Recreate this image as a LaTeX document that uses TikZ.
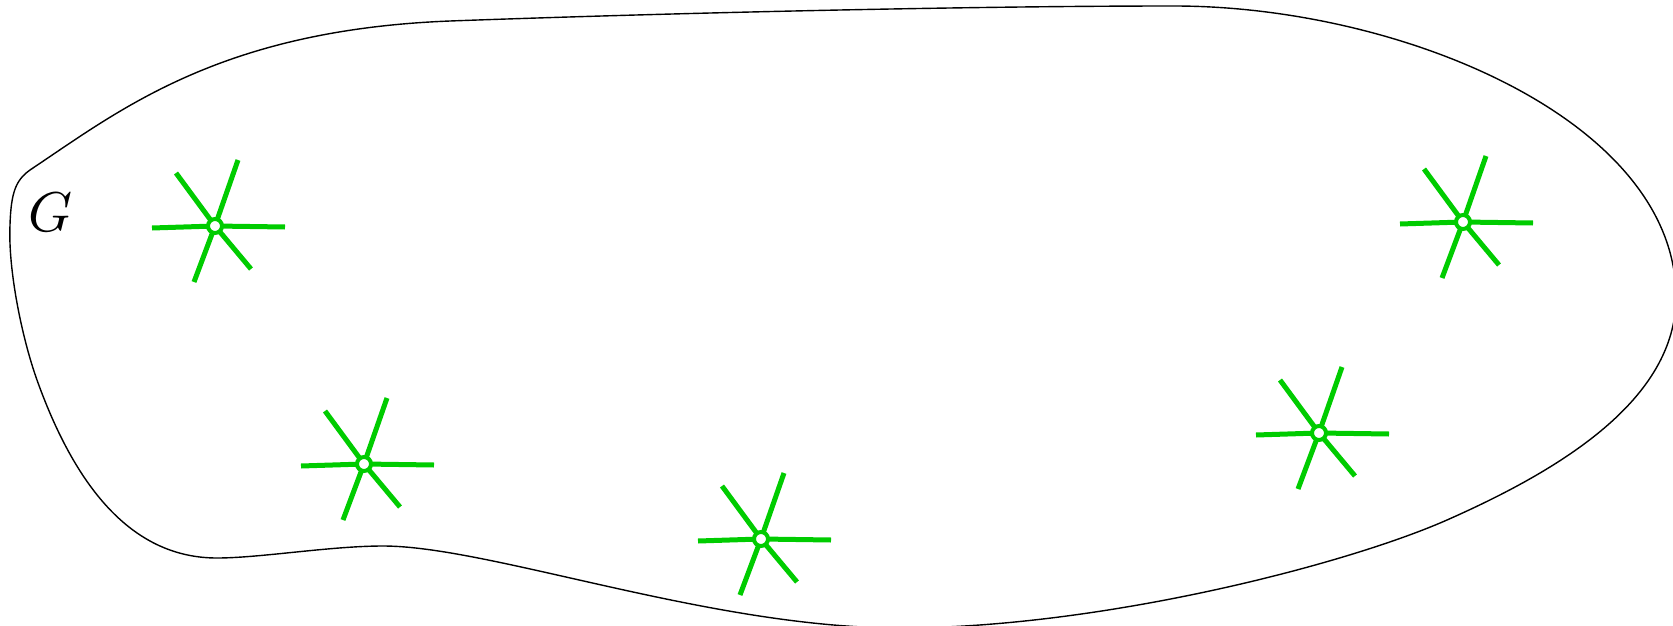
\documentclass[tikz,border=0pt]{standalone}
\usepackage{tikz}
\definecolor{spokegreen}{RGB}{0,204,0}
\tikzset{
  outline/.style={draw=black, line width=1.4pt},
  spoke/.style={draw=spokegreen, line width=5pt},
  hub/.style={circle, draw=spokegreen, line width=4pt, fill=white, inner sep=0pt, minimum size=14pt},
  glabel/.style={scale=5.6, inner sep=0pt}
}
\newcommand{\mystar}[2]{%
  \coordinate (c#1) at #2;
  \draw[spoke] (c#1) -- ++(-63,2);
  \draw[spoke] (c#1) -- ++(70,1);
  \draw[spoke] (c#1) -- ++(-39,-53);
  \draw[spoke] (c#1) -- ++(23,-66);
  \draw[spoke] (c#1) -- ++(-21,56);
  \draw[spoke] (c#1) -- ++(36,43);
  \node[hub] (s#1) at (c#1) {};
}
\begin{document}
\begin{tikzpicture}[x=1pt, y=-1pt]
\useasboundingbox (0,0) rectangle (1673,626);
\clip (0,0) rectangle (1673,626);
\draw[outline] (30,170)
  .. controls (120,110) and (220,30) .. (450,21)
  .. controls (640,14) and (950,6) .. (1174,6)
  .. controls (1400,6) and (1676,120) .. (1676,297)
  .. controls (1676,400) and (1560,470) .. (1447,520)
  .. controls (1345,565) and (1100,628) .. (900,628)
  .. controls (710,628) and (490,546) .. (383,546)
  .. controls (330,546) and (260,558) .. (217,558)
  .. controls (140,558) and (80,500) .. (37,380)
  .. controls (22,338) and (8,270) .. (10,225)
  .. controls (11,192) and (16,180) .. (30,170) -- cycle;
\node[glabel] (G) at (51,212) {$G$};
\mystar{1}{(215,226)}
\mystar{2}{(364,464)}
\mystar{3}{(761,539)}
\mystar{4}{(1319,433)}
\mystar{5}{(1463,222)}
\end{tikzpicture}
\end{document}
